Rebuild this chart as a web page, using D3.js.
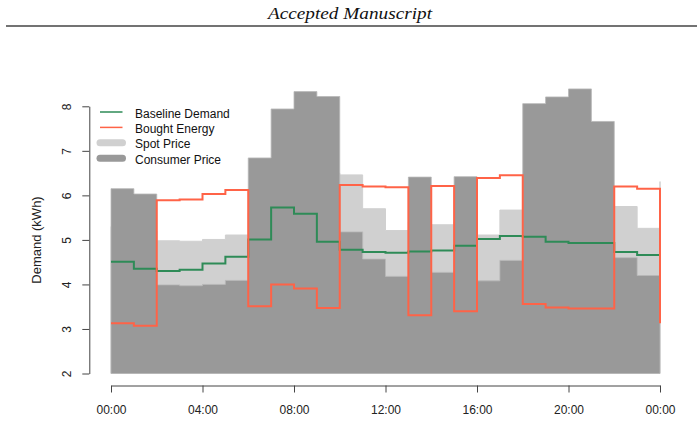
<!DOCTYPE html>
<html>
    <head>
        <meta charset="utf-8">
        <title>Demand and prices</title>
        <script type="text/javascript" src="https://cdn.jsdelivr.net/npm/d3@7"></script>
        <style>
            body { margin: 0; background: #fff; }
        </style>
    </head>
    <body>
        <svg id="svg"></svg>

        <script>
            var WIDTH = 700;
            var HEIGHT = 442;

            // hours 0..24 (last value closes the step at 24:00)
            var hours = d3.range(0, 25);
            var tickLabels = ["00:00", "04:00", "08:00", "12:00", "16:00", "20:00", "00:00"];
            var yTicks = [2, 3, 4, 5, 6, 7, 8];

            var baselineDemand = [4.51, 4.35, 4.30, 4.33, 4.47, 4.62, 5.01, 5.73, 5.59, 4.96, 4.78, 4.73,
                                  4.71, 4.74, 4.76, 4.87, 5.02, 5.09, 5.07, 4.96, 4.93, 4.93, 4.73, 4.66, 4.66];
            var boughtEnergy = [3.13, 3.07, 5.89, 5.91, 6.03, 6.12, 3.51, 4.00, 3.91, 3.47, 6.23, 6.20,
                                6.18, 3.31, 6.21, 3.40, 6.39, 6.45, 3.56, 3.48, 3.46, 3.46, 6.20, 6.15, 3.13];
            var spotPrice = [5.30, 5.20, 4.98, 4.97, 5.01, 5.11, 5.60, 6.20, 6.60, 6.50, 6.46, 5.70,
                             5.21, 5.40, 5.34, 5.40, 5.11, 5.67, 6.00, 6.30, 6.40, 6.10, 5.75, 5.26, 6.31];
            var consumerPrice = [6.15, 6.03, 3.99, 3.97, 4.00, 4.09, 6.84, 7.94, 8.33, 8.22, 5.18, 4.57,
                                 4.18, 6.41, 4.27, 6.42, 4.08, 4.54, 8.06, 8.21, 8.39, 7.66, 4.60, 4.20, 4.20];

            var legendNames = ["Baseline Demand", "Bought Energy", "Spot Price", "Consumer Price"];

            var svg = d3.select("#svg")
                        .attr("width", WIDTH)
                        .attr("height", HEIGHT)
                        .style("font-family", "Liberation Sans, Arial, sans-serif")

            // page header
            svg.append("text")
               .attr("x", 350)
               .attr("y", 19)
               .attr("text-anchor", "middle")
               .attr("font-family", "Liberation Serif, serif")
               .attr("font-style", "italic")
               .attr("font-size", "17px")
               .attr("textLength", 164)
               .attr("lengthAdjust", "spacingAndGlyphs")
               .attr("fill", "#111")
               .text("Accepted Manuscript")
            svg.append("line")
               .attr("x1", 6).attr("x2", 697)
               .attr("y1", 26).attr("y2", 26)
               .attr("stroke", "#444")
               .attr("stroke-width", 1.3)

            var xScale = d3.scaleLinear()
                           .domain([0, 24])
                           .range([111, 660])
            var yScale = d3.scaleLinear()
                           .domain([2, 8])
                           .range([373.5, 106.3])

            var stepArea = function(values){
                return d3.area()
                         .x(function(d, i){ return xScale(hours[i]) })
                         .y0(yScale(2))
                         .y1(function(d){ return yScale(d) })
                         .curve(d3.curveStepAfter)(values)
            }
            var stepLine = d3.line()
                             .x(function(d, i){ return xScale(hours[i]) })
                             .y(function(d){ return yScale(d) })
                             .curve(d3.curveStepAfter)

            svg.append("path")
               .attr("d", stepArea(spotPrice))
               .attr("fill", "#d0d0d0")
               .attr("stroke", "#d0d0d0")
               .attr("stroke-width", 1)

            svg.append("path")
               .attr("d", stepArea(consumerPrice))
               .attr("fill", "#999999")
               .attr("stroke", "#b8b8b8")
               .attr("stroke-width", 0.8)

            svg.append("path")
               .attr("d", stepLine(baselineDemand))
               .attr("fill", "none")
               .attr("stroke", "#2e8b57")
               .attr("stroke-width", 2)

            svg.append("path")
               .attr("d", stepLine(boughtEnergy))
               .attr("fill", "none")
               .attr("stroke", "#ff6347")
               .attr("stroke-width", 2)

            // axes
            var xAxis = d3.axisBottom(xScale)
                          .tickValues([0, 4, 8, 12, 16, 20, 24])
                          .tickSize(7)
                          .tickSizeOuter(0)
                          .tickFormat(function(d, i){ return tickLabels[i] })
            var gx = svg.append("g")
                        .attr("transform", "translate(0,385.5)")
                        .call(xAxis)
            gx.selectAll("text")
              .attr("font-size", "12px")
              .attr("font-family", "Liberation Sans, Arial, sans-serif")
              .attr("fill", "#222")
              .attr("dy", "0")
              .attr("y", 28)

            var yAxis = d3.axisLeft(yScale)
                          .tickValues(yTicks)
                          .tickSize(7)
                          .tickSizeOuter(0)
                          .tickFormat(d3.format("d"))
            var gy = svg.append("g")
                        .attr("transform", "translate(89.3,0)")
                        .call(yAxis)
            gy.selectAll("text")
              .attr("font-size", "12px")
              .attr("font-family", "Liberation Sans, Arial, sans-serif")
              .attr("fill", "#222")
              .attr("x", 0).attr("dy", "0")
              .attr("text-anchor", "middle")
              .attr("transform", "translate(-18,0) rotate(-90)")
            svg.selectAll(".domain, .tick line")
               .attr("stroke", "#444")

            svg.append("text")
               .attr("transform", "translate(41,240) rotate(-90)")
               .attr("text-anchor", "middle")
               .attr("font-size", "13px")
               .attr("fill", "#222")
               .text("Demand (kWh)")

            // x axis title sits at the page edge, as in the source figure
            svg.append("text")
               .attr("x", 385)
               .attr("y", 451)
               .attr("text-anchor", "middle")
               .attr("font-size", "12px")
               .attr("fill", "#222")
               .text("Hour")

            // legend
            var legendColors = ["#2e8b57", "#ff6347", "#d0d0d0", "#999999"];
            var legendWidths = [1.5, 1.5, 7, 7];
            var legend = svg.selectAll(".legend")
                            .data(legendNames)
                            .enter()
                            .append("g")
                            .attr("class", "legend")
                            .attr("transform", function(d, i){
                                return "translate(0," + (112 + i * 15.4) + ")"
                            })
            legend.append("line")
                  .attr("x1", 100).attr("x2", 122.5)
                  .attr("y1", 0).attr("y2", 0)
                  .attr("stroke", function(d, i){ return legendColors[i] })
                  .attr("stroke-width", function(d, i){ return legendWidths[i] })
                  .attr("stroke-linecap", function(d, i){ return i > 1 ? "round" : "butt" })
            legend.append("text")
                  .attr("x", 135)
                  .attr("y", 5.5)
                  .attr("font-size", "12px")
                  .attr("fill", "#111")
                  .text(function(d){ return d })
        </script>
    </body>
</html>
